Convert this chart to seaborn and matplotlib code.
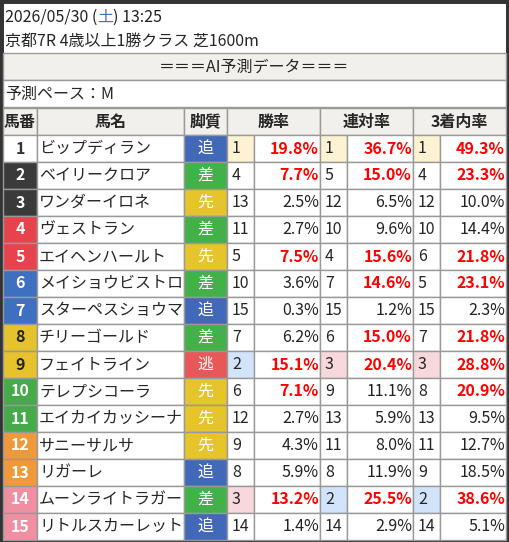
import matplotlib
matplotlib.use("Agg")
import matplotlib.pyplot as plt
import seaborn as sns
from matplotlib.patches import Rectangle

sns.set_theme(style="white")
plt.rcParams['font.family'] = ['Noto Sans CJK JP', 'DejaVu Sans']

nums = list(range(1, 16))
names = ["ビップディラン", "ベイリークロア", "ワンダーイロネ", "ヴェストラン", "エイヘンハールト",
         "メイショウビストロ", "スターペスショウマ", "チリーゴールド", "フェイトライン", "テレプシコーラ",
         "エイカイカッシーナ", "サニーサルサ", "リガーレ", "ムーンライトラガー", "リトルスカーレット"]
styles = ["追", "差", "先", "差", "先", "差", "追", "差", "逃", "先", "先", "先", "追", "差", "追"]
frames = [1, 2, 2, 3, 3, 4, 4, 5, 5, 6, 6, 7, 7, 8, 8]
win_rank = [1, 4, 13, 11, 5, 10, 15, 7, 2, 6, 12, 9, 8, 3, 14]
win_pct = [19.8, 7.7, 2.5, 2.7, 7.5, 3.6, 0.3, 6.2, 15.1, 7.1, 2.7, 4.3, 5.9, 13.2, 1.4]
ren_rank = [1, 5, 12, 10, 4, 7, 15, 6, 3, 9, 13, 11, 8, 2, 14]
ren_pct = [36.7, 15.0, 6.5, 9.6, 15.6, 14.6, 1.2, 15.0, 20.4, 11.1, 5.9, 8.0, 11.9, 25.5, 2.9]
fuku_rank = [1, 4, 12, 10, 6, 5, 15, 7, 3, 8, 13, 11, 9, 2, 14]
fuku_pct = [49.3, 23.3, 10.0, 14.4, 21.8, 23.1, 2.3, 21.8, 28.8, 20.9, 9.5, 12.7, 18.5, 38.6, 5.1]
headers = ["馬番", "馬名", "脚質", "勝率", "連対率", "3着内率"]
title1_parts = ["2026/05/30 (", "土", ") 13:25"]
title2 = "京都7R 4歳以上1勝クラス 芝1600m"
band = "＝＝＝AI予測データ＝＝＝"
pace = "予測ペース：M"

frame_col = {1: "#ffffff", 2: "#3a3a3a", 3: "#e8424c", 4: "#3f6fc0", 5: "#e6c22c",
             6: "#45aa4a", 7: "#ef9a3a", 8: "#f08fa2"}
frame_txt = {1: "#333333", 5: "#222222"}
style_col = {"追": "#4169b8", "差": "#44b04a", "先": "#e6c42c", "逃": "#e85858"}
rank_col = {1: "#fdf3d2", 2: "#d2e4fb", 3: "#f8d8dc"}
thr = [7.0, 14.0, 20.0]

fig = plt.figure(figsize=(5.09, 5.42), dpi=100)
ax = fig.add_axes([0, 0, 1, 1])
ax.set_xlim(0, 509)
ax.set_ylim(542, 0)
ax.axis("off")
FS = 11.5
grid = "#999999"

def cell(x0, y0, w, h, fc="white"):
    ax.add_patch(Rectangle((x0, y0), w, h, facecolor=fc, edgecolor=grid, lw=1))

ax.add_patch(Rectangle((0, 0), 509, 542, facecolor="white", edgecolor="#333333", lw=5))

fig.canvas.draw()
r = fig.canvas.get_renderer()
x = 5
for part, c in zip(title1_parts, ["#222222", "#3f6fc0", "#222222"]):
    t = ax.text(x, 17, part, fontsize=FS, va="center", color=c)
    bb = t.get_window_extent(renderer=r)
    x += bb.width

ax.text(5, 41, title2, fontsize=FS, va="center")
cell(3, 53, 503, 27, "#f1f0ec")
ax.text(254, 67, band, fontsize=FS, ha="center", va="center")
cell(3, 80, 503, 27)
ax.text(5, 94, pace, fontsize=FS, va="center")

cols = [3, 37, 184, 227, 254, 320, 347, 413, 440, 506]
hspans = [(0, 1), (1, 2), (2, 3), (3, 5), (5, 7), (7, 9)]
y0 = 108
H = 27
for h, (a, b) in zip(headers, hspans):
    cell(cols[a], y0, cols[b] - cols[a], H, "#f1f0ec")
    ax.text((cols[a] + cols[b]) / 2, y0 + H / 2, h, fontsize=FS, weight="bold", ha="center", va="center")

for i in range(len(nums)):
    y = y0 + H * (i + 1)
    yc = y + H / 2
    f = frames[i]
    cell(cols[0], y, cols[1] - cols[0], H, frame_col[f])
    ax.text((cols[0] + cols[1]) / 2, yc, str(nums[i]), fontsize=FS, weight="bold", ha="center", va="center",
            color=frame_txt.get(f, "white"))
    cell(cols[1], y, cols[2] - cols[1], H)
    ax.text(cols[1] + 2, yc, names[i], fontsize=FS, va="center")
    cell(cols[2], y, cols[3] - cols[2], H, style_col[styles[i]])
    ax.text((cols[2] + cols[3]) / 2, yc, styles[i], fontsize=FS, ha="center", va="center", color="white")
    for k, (rk, pc) in enumerate([(win_rank[i], win_pct[i]), (ren_rank[i], ren_pct[i]), (fuku_rank[i], fuku_pct[i])]):
        xa, xb, xc = cols[3 + 2 * k], cols[4 + 2 * k], cols[5 + 2 * k]
        cell(xa, y, xb - xa, H, rank_col.get(rk, "white"))
        ax.text(xa + 5, yc, str(rk), fontsize=FS, va="center")
        cell(xb, y, xc - xb, H)
        red = pc >= thr[k]
        ax.text(xc - 1, yc, f"{pc:.1f}%", fontsize=FS, ha="right", va="center",
                color="#ff0000" if red else "#222222", weight="bold" if red else "normal")

fig.savefig("out.png", dpi=100)
